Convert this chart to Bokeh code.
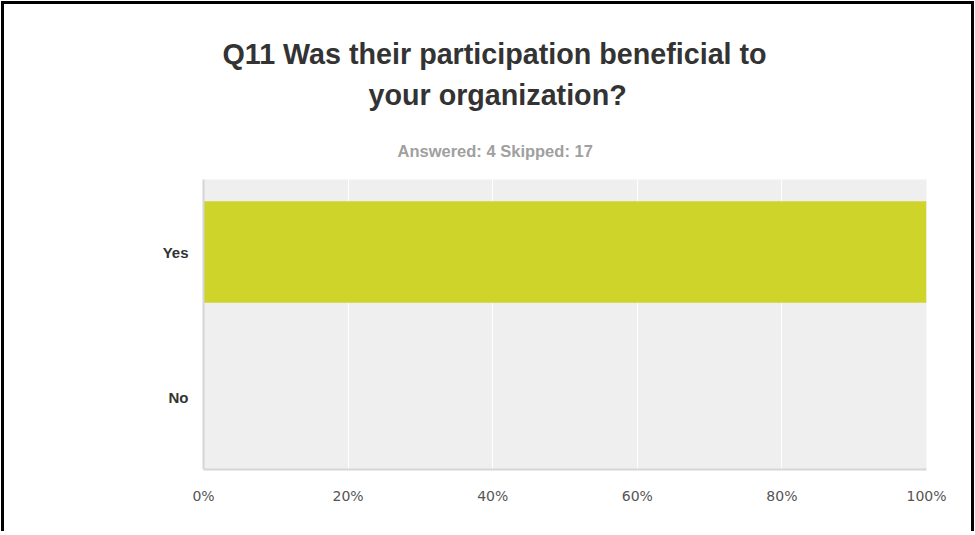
from bokeh.plotting import figure
from bokeh.models import FactorRange, Range1d, FixedTicker, Title
from bokeh.embed import file_html
from bokeh.resources import INLINE

# ---- data ----
answers = ["Yes", "No"]
percents = [100, 0]
tick_values = [0, 20, 40, 60, 80, 100]
tick_labels = ["0%", "20%", "40%", "60%", "80%", "100%"]
title_line1 = "Q11 Was their participation beneficial to"
title_line2 = "your organization?"
subtitle = "Answered: 4    Skipped: 17"

BAR = "#cfd42b"

p = figure(width=973, height=530,
           y_range=FactorRange(factors=answers[::-1]),
           x_range=Range1d(0, 100),
           output_backend="svg", toolbar_location=None,
           min_border_left=199, min_border_right=51,
           min_border_top=175, min_border_bottom=65)
p.styles = {"margin-left": "1px", "margin-top": "1px",
            "border-top": "3px solid #000", "border-left": "3px solid #000",
            "border-right": "3px solid #000"}

p.background_fill_color = "#efefef"
p.border_fill_color = "white"
p.outline_line_color = None

p.hbar(y=answers, left=0, right=percents, height=0.7,
       fill_color=BAR, line_color=None)

# grid
p.xgrid.ticker = FixedTicker(ticks=tick_values)
p.xgrid.grid_line_color = "white"
p.xgrid.grid_line_width = 1
p.ygrid.grid_line_color = None

# axes
p.xaxis.ticker = FixedTicker(ticks=tick_values)
p.xaxis.major_label_overrides = {v: t for v, t in zip(tick_values, tick_labels)}
p.xaxis.axis_line_color = "#d6d6d6"
p.xaxis.axis_line_width = 2
p.xaxis.major_tick_line_color = None
p.xaxis.minor_tick_line_color = None
p.xaxis.major_label_text_font = "DejaVu Sans"
p.xaxis.major_label_text_font_size = "14px"
p.xaxis.major_label_text_color = "#555555"
p.xaxis.major_label_standoff = 12

p.yaxis.axis_line_color = "#d6d6d6"
p.yaxis.axis_line_width = 2
p.yaxis.major_tick_line_color = None
p.yaxis.minor_tick_line_color = None
p.yaxis.major_label_text_font = "Liberation Sans"
p.yaxis.major_label_text_font_style = "bold"
p.yaxis.major_label_text_font_size = "15px"
p.yaxis.major_label_text_color = "#333333"
p.yaxis.major_label_standoff = 9

# titles stacked above the frame (first added = nearest the frame)
p.add_layout(Title(text=subtitle, align="left", offset=194, standoff=39,
                   text_font="Liberation Sans", text_font_size="16.5px",
                   text_font_style="bold", text_color="#a0a0a0"), "above")
p.add_layout(Title(text=title_line2, align="left", offset=165, standoff=20,
                   text_font="Liberation Sans", text_font_size="28.7px",
                   text_font_style="bold", text_color="#333333"), "above")
p.add_layout(Title(text=title_line1, align="left", offset=19, standoff=-6,
                   text_font="Liberation Sans", text_font_size="28.7px",
                   text_font_style="bold", text_color="#333333"), "above")

open("out.html", "w").write(file_html(p, INLINE))
